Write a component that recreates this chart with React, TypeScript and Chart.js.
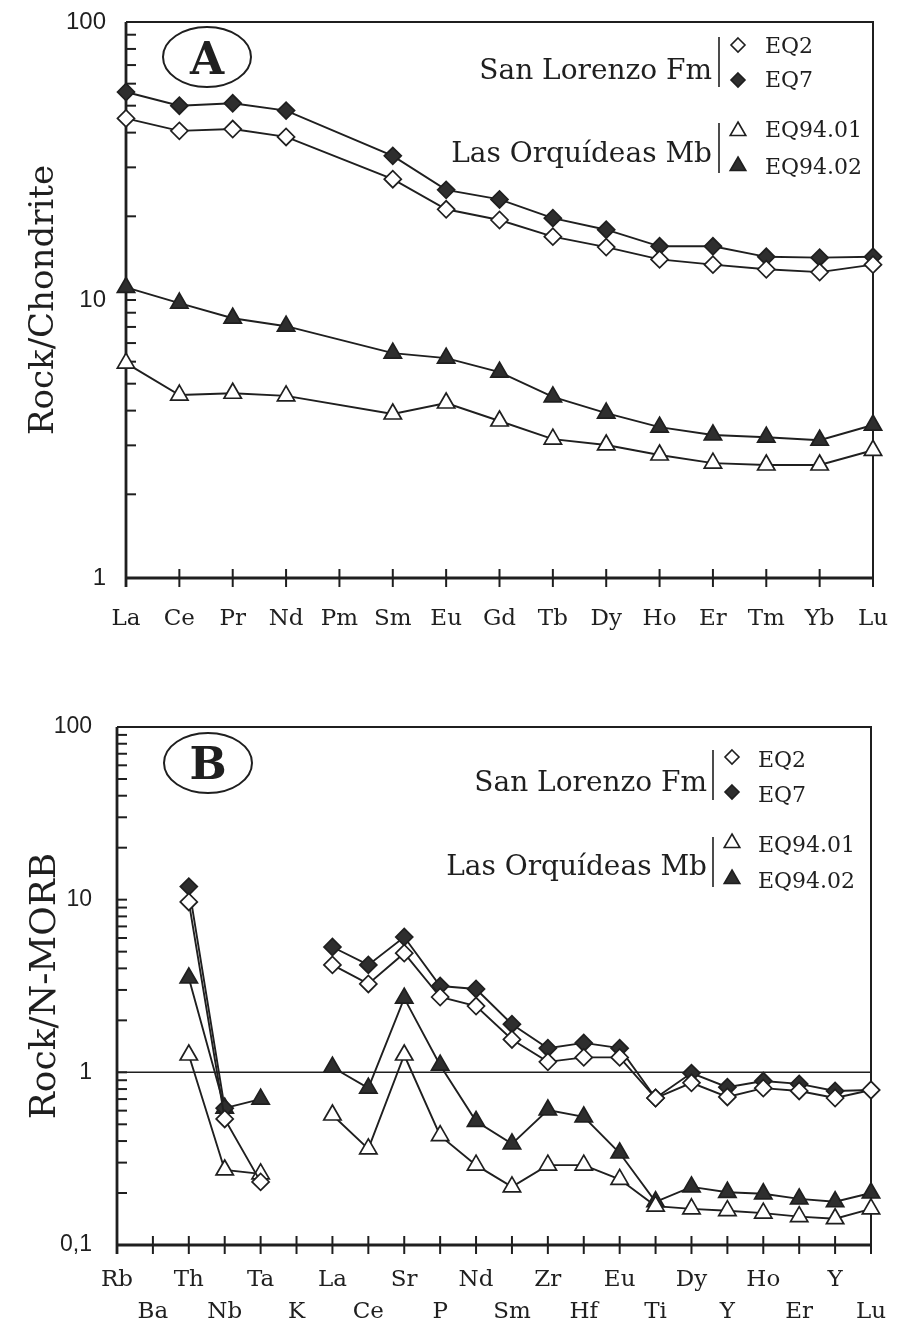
import React, { useEffect, useRef } from "react";
import { Chart, registerables } from "chart.js";
Chart.register(...registerables);

// ---------- Panel A : REE / Chondrite ----------
const reeLabels = ["La", "Ce", "Pr", "Nd", "Pm", "Sm", "Eu", "Gd", "Tb", "Dy", "Ho", "Er", "Tm", "Yb", "Lu"];
const reeEQ2 = [45, 40.6, 41.2, 38.6, null, 27.2, 21.2, 19.4, 16.9, 15.5, 14.0, 13.4, 12.9, 12.6, 13.4];
const reeEQ7 = [56, 50, 51, 48, null, 33, 24.9, 23, 19.7, 17.9, 15.6, 15.6, 14.3, 14.2, 14.3];
const reeEQ9401 = [5.93, 4.55, 4.62, 4.52, null, 3.89, 4.26, 3.67, 3.16, 3.01, 2.77, 2.59, 2.55, 2.55, 2.88];
const reeEQ9402 = [11.1, 9.75, 8.6, 8.05, null, 6.44, 6.18, 5.5, 4.48, 3.92, 3.49, 3.27, 3.21, 3.13, 3.55];
const reeYTicks = [1, 2, 3, 4, 5, 6, 7, 8, 9, 10, 20, 30, 40, 50, 60, 70, 80, 90, 100];
const reeYMajor = [1, 10, 100];
const reeYMajorLabels = ["1", "10", "100"];

// ---------- Panel B : spider / N-MORB ----------
const spiderLabels = ["Rb", "Ba", "Th", "Nb", "Ta", "K", "La", "Ce", "Sr", "P", "Nd", "Sm", "Zr", "Hf", "Eu", "Ti", "Dy", "Y", "Ho", "Er", "Y", "Lu"];
const spiderEQ2 = [null, null, 9.7, 0.537, 0.232, null, 4.19, 3.25, 4.9, 2.73, 2.42, 1.55, 1.15, 1.22, 1.22, 0.71, 0.87, 0.72, 0.81, 0.78, 0.71, 0.79];
const spiderEQ7 = [null, null, 11.9, 0.62, null, null, 5.32, 4.19, 6.08, 3.16, 3.04, 1.9, 1.38, 1.48, 1.38, 0.71, 0.99, 0.82, 0.89, 0.857, 0.78, 0.79];
const spiderEQ9401 = [null, null, 1.26, 0.272, 0.258, null, 0.566, 0.36, 1.26, 0.43, 0.29, 0.217, 0.29, 0.29, 0.24, 0.168, 0.162, 0.158, 0.153, 0.146, 0.142, 0.162];
const spiderEQ9402 = [null, null, 3.52, 0.62, 0.70, null, 1.07, 0.81, 2.69, 1.10, 0.52, 0.385, 0.605, 0.552, 0.341, 0.178, 0.217, 0.202, 0.198, 0.185, 0.178, 0.2];
const spiderYTicks = [0.1, 0.2, 0.3, 0.4, 0.5, 0.6, 0.7, 0.8, 0.9, 1, 2, 3, 4, 5, 6, 7, 8, 9, 10, 20, 30, 40, 50, 60, 70, 80, 90, 100];
const spiderYMajor = [0.1, 1, 10, 100];
const spiderYMajorLabels = ["0,1", "1", "10", "100"];
const spiderReference = 1;

// ---------- legend ----------
const seriesNames = ["EQ2", "EQ7", "EQ94.01", "EQ94.02"];
const groupNames = ["San Lorenzo Fm", "Las Orquídeas Mb"];

const INK = "#1f1f1f";
const FILL = "#2e2e2e";
const SERIF = '"DejaVu Serif", "Liberation Serif", serif';
const SANS = '"Liberation Sans", Arial, sans-serif';

const seriesStyles = [
  { shape: "rectRot", filled: false },
  { shape: "rectRot", filled: true },
  { shape: "triangle", filled: false },
  { shape: "triangle", filled: true },
];

function drawMarker(ctx: CanvasRenderingContext2D, shape: string, filled: boolean, x: number, y: number, r: number) {
  ctx.beginPath();
  if (shape === "rectRot") {
    ctx.moveTo(x, y - r);
    ctx.lineTo(x + r, y);
    ctx.lineTo(x, y + r);
    ctx.lineTo(x - r, y);
  } else {
    ctx.moveTo(x, y - r);
    ctx.lineTo(x + 0.866 * r, y + 0.5 * r);
    ctx.lineTo(x - 0.866 * r, y + 0.5 * r);
  }
  ctx.closePath();
  ctx.fillStyle = filled ? FILL : "#fff";
  ctx.fill();
  ctx.lineWidth = 1.6;
  ctx.strokeStyle = INK;
  ctx.stroke();
}

type PanelOpts = {
  labels: any[];
  series: (number | null)[][];
  yMin: number;
  yMax: number;
  yTicks: number[];
  yMajor: number[];
  yMajorLabels: string[];
  yTitle: string;
  titleSize: number;
  yLabelSize: number;
  yLabelPad: number;
  area: { left: number; top: number; right: number; bottom: number };
  width: number;
  height: number;
  xLabelPad: number;
  xLineHeight: number;
  spanGaps: boolean;
  reference?: number;
  letter: string;
  ellipse: { cx: number; cy: number; baseline: number };
  legend: {
    textRight: number;
    barX: number;
    markerX: number;
    nameX: number;
    groups: { baseline: number; barTop: number; barBottom: number; items: { idx: number; y: number; baseline: number }[] }[];
  };
};

function buildConfig(p: PanelOpts): any {
  const framePlugin = {
    id: "frame",
    beforeDatasetsDraw(chart: any) {
      const { ctx, chartArea: a, scales } = chart;
      ctx.save();
      ctx.strokeStyle = INK;
      // inward minor ticks on y axis
      ctx.lineWidth = 2;
      for (const v of p.yTicks) {
        const y = scales.y.getPixelForValue(v);
        ctx.beginPath();
        ctx.moveTo(a.left, y);
        ctx.lineTo(a.left + 10, y);
        ctx.stroke();
      }
      // crossing ticks on x axis
      for (let i = 0; i < p.labels.length; i++) {
        const x = scales.x.getPixelForValue(i);
        ctx.beginPath();
        ctx.moveTo(x, a.bottom - 9);
        ctx.lineTo(x, a.bottom + 9);
        ctx.stroke();
      }
      // reference line
      if (p.reference !== undefined) {
        const y = scales.y.getPixelForValue(p.reference);
        ctx.lineWidth = 1.5;
        ctx.beginPath();
        ctx.moveTo(a.left, y);
        ctx.lineTo(a.right, y);
        ctx.stroke();
      }
      // top + right border
      ctx.lineWidth = 2;
      ctx.beginPath();
      ctx.moveTo(a.left, a.top);
      ctx.lineTo(a.right, a.top);
      ctx.lineTo(a.right, a.bottom + 9);
      ctx.stroke();
      // left + bottom axes
      ctx.lineWidth = 2.8;
      ctx.beginPath();
      ctx.moveTo(a.left, a.top);
      ctx.lineTo(a.left, a.bottom + 9);
      ctx.moveTo(a.left, a.bottom);
      ctx.lineTo(a.right, a.bottom);
      ctx.stroke();
      ctx.restore();
    },
    afterDraw(chart: any) {
      const { ctx } = chart;
      ctx.save();
      // circled letter
      ctx.strokeStyle = INK;
      ctx.lineWidth = 2;
      ctx.beginPath();
      ctx.ellipse(p.ellipse.cx, p.ellipse.cy, 44, 30, 0, 0, Math.PI * 2);
      ctx.stroke();
      ctx.fillStyle = INK;
      ctx.font = `bold 44px ${SERIF}`;
      ctx.textAlign = "center";
      ctx.textBaseline = "alphabetic";
      ctx.fillText(p.letter, p.ellipse.cx, p.ellipse.baseline);
      // legend
      const L = p.legend;
      p.legend.groups.forEach((g, gi) => {
        ctx.font = `28px ${SERIF}`;
        ctx.textAlign = "right";
        ctx.fillStyle = INK;
        ctx.fillText(groupNames[gi], L.textRight, g.baseline);
        ctx.lineWidth = 1.6;
        ctx.beginPath();
        ctx.moveTo(L.barX, g.barTop);
        ctx.lineTo(L.barX, g.barBottom);
        ctx.stroke();
        g.items.forEach((it) => {
          const st = seriesStyles[it.idx];
          drawMarker(ctx, st.shape, st.filled, L.markerX, it.y, st.shape === "rectRot" ? 7 : 9);
          ctx.font = `22px ${SERIF}`;
          ctx.textAlign = "left";
          ctx.fillStyle = INK;
          ctx.fillText(seriesNames[it.idx], L.nameX, it.baseline);
        });
      });
      ctx.restore();
    },
  };

  return {
    type: "line",
    data: {
      labels: p.labels,
      datasets: p.series.map((d, i) => ({
        label: seriesNames[i],
        data: d,
        borderColor: INK,
        borderWidth: 1.9,
        tension: 0,
        fill: false,
        spanGaps: p.spanGaps,
        clip: false,
        pointStyle: seriesStyles[i].shape,
        pointRadius: seriesStyles[i].shape === "rectRot" ? 8.5 : 10,
        pointBackgroundColor: seriesStyles[i].filled ? FILL : "#ffffff",
        pointBorderColor: INK,
        pointBorderWidth: 1.7,
      })),
    },
    options: {
      responsive: false,
      animation: false,
      devicePixelRatio: 1,
      layout: { padding: { top: p.area.top, right: p.width - p.area.right, left: 0, bottom: 0 } },
      plugins: { legend: { display: false }, tooltip: { enabled: false } },
      scales: {
        x: {
          type: "category",
          offset: false,
          grid: { display: false, drawTicks: false },
          border: { display: false },
          ticks: {
            autoSkip: false,
            maxRotation: 0,
            minRotation: 0,
            padding: p.xLabelPad,
            color: INK,
            font: { family: SERIF, size: 23, lineHeight: p.xLineHeight },
          },
          afterFit: (s: any) => {
            s.height = p.height - p.area.bottom;
            s.paddingLeft = 0;
            s.paddingRight = 0;
          },
        },
        y: {
          type: "logarithmic",
          min: p.yMin,
          max: p.yMax,
          grid: { display: false, drawTicks: false },
          border: { display: false },
          afterBuildTicks: (s: any) => {
            s.ticks = p.yTicks.map((v) => ({ value: v }));
          },
          ticks: {
            autoSkip: false,
            padding: p.yLabelPad,
            color: INK,
            font: { family: SANS, size: p.yLabelSize },
            callback: (v: any) => {
              const k = p.yMajor.findIndex((m) => Math.abs(m - Number(v)) < 1e-9);
              return k >= 0 ? p.yMajorLabels[k] : "";
            },
          },
          title: {
            display: true,
            text: p.yTitle,
            color: INK,
            font: { family: SERIF, size: p.titleSize, lineHeight: 1.2 },
            padding: { top: 24, bottom: 0 },
          },
          afterFit: (s: any) => {
            s.width = p.area.left;
            s.paddingTop = 0;
            s.paddingBottom = 0;
          },
        },
      },
    },
    plugins: [framePlugin],
  };
}

const spiderTwoRowLabels = spiderLabels.map((l, i) => (i % 2 === 0 ? [l, ""] : ["", l]));

const panelA: PanelOpts = {
  labels: reeLabels,
  series: [reeEQ2, reeEQ7, reeEQ9401, reeEQ9402],
  yMin: 1,
  yMax: 100,
  yTicks: reeYTicks,
  yMajor: reeYMajor,
  yMajorLabels: reeYMajorLabels,
  yTitle: "Rock/Chondrite",
  titleSize: 34,
  yLabelSize: 24,
  yLabelPad: 20,
  area: { left: 126, top: 22, right: 873, bottom: 578 },
  width: 906,
  height: 660,
  xLabelPad: 27,
  xLineHeight: 1.2,
  spanGaps: true,
  letter: "A",
  ellipse: { cx: 207, cy: 57, baseline: 74 },
  legend: {
    textRight: 712,
    barX: 719,
    markerX: 738,
    nameX: 765,
    groups: [
      { baseline: 79, barTop: 37, barBottom: 87, items: [{ idx: 0, y: 45, baseline: 53 }, { idx: 1, y: 80, baseline: 87 }] },
      { baseline: 162, barTop: 123, barBottom: 173, items: [{ idx: 2, y: 131, baseline: 137 }, { idx: 3, y: 166, baseline: 174 }] },
    ],
  },
};

const panelB: PanelOpts = {
  labels: spiderTwoRowLabels,
  series: [spiderEQ2, spiderEQ7, spiderEQ9401, spiderEQ9402],
  yMin: 0.1,
  yMax: 100,
  yTicks: spiderYTicks,
  yMajor: spiderYMajor,
  yMajorLabels: spiderYMajorLabels,
  yTitle: "Rock/N-MORB",
  titleSize: 36,
  yLabelSize: 23,
  yLabelPad: 25,
  area: { left: 117, top: 67, right: 871, bottom: 585 },
  width: 906,
  height: 664,
  xLabelPad: 20,
  xLineHeight: 1.35,
  spanGaps: false,
  reference: spiderReference,
  letter: "B",
  ellipse: { cx: 208, cy: 103, baseline: 119 },
  legend: {
    textRight: 707,
    barX: 713,
    markerX: 732,
    nameX: 758,
    groups: [
      { baseline: 131, barTop: 90, barBottom: 140, items: [{ idx: 0, y: 97, baseline: 107 }, { idx: 1, y: 132, baseline: 142 }] },
      { baseline: 215, barTop: 177, barBottom: 227, items: [{ idx: 2, y: 183, baseline: 192 }, { idx: 3, y: 219, baseline: 228 }] },
    ],
  },
};

function Panel({ opts, top }: { opts: PanelOpts; top: number }) {
  const ref = useRef<HTMLCanvasElement>(null);
  useEffect(() => {
    const chart = new Chart(ref.current as HTMLCanvasElement, buildConfig(opts));
    return () => chart.destroy();
  }, [opts]);
  return (
    <canvas
      ref={ref}
      width={opts.width}
      height={opts.height}
      style={{ position: "absolute", left: 0, top, width: opts.width, height: opts.height }}
    />
  );
}

export default function App() {
  return (
    <div style={{ position: "absolute", left: 0, top: 0, width: 906, height: 1324, background: "#fff", overflow: "hidden" }}>
      <Panel opts={panelA} top={0} />
      <Panel opts={panelB} top={660} />
    </div>
  );
}
